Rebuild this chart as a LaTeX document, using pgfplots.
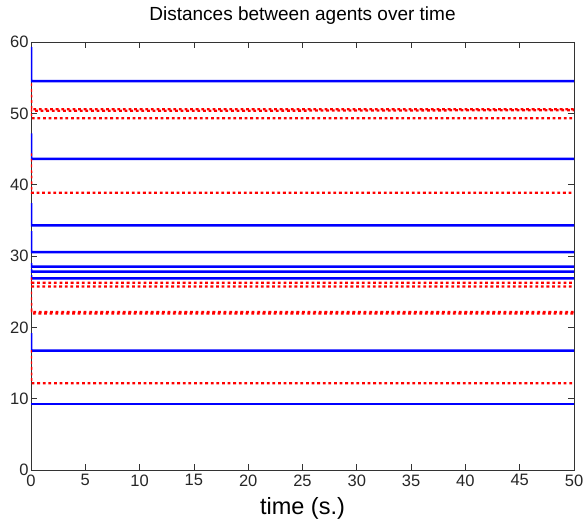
\documentclass[border=0pt]{standalone}
\usepackage{pgfplots}
\pgfplotsset{compat=1.18}
\usepackage{fontspec}
\setmainfont{Liberation Sans}
\begin{document}
\begin{tikzpicture}
\begin{axis}[
  scale only axis, width=543pt, height=428pt,
  xmin=0, xmax=50, ymin=0, ymax=60,
  xtick={0,5,...,50}, ytick={0,10,...,60},
  tick align=inside, major tick length=6pt,
  xtick pos=both, ytick pos=both,
  tick style={black!80, line width=0.8pt},
  axis line style={black!80, line width=0.8pt},
  /pgf/number format/assume math mode=true,
  tick label style={font=\fontsize{16.5}{17}\selectfont, text=black!85},
  xticklabel style={yshift=-1pt},
  yticklabel style={xshift=1pt},
  title={Distances between agents over time},
  title style={font=\fontsize{19}{20}\selectfont, at={(0.5,1)}, anchor=base, yshift=15pt},
  xlabel={time (s.)},
  xlabel style={font=\fontsize{23.5}{24}\selectfont, at={(0.5,0)}, anchor=base, yshift=-45pt},
  blueline/.style={blue, line width=2.5pt},
  redline/.style={red, line width=2.3pt, dash pattern=on 2.8pt off 2.8pt},
]
% blue solid
\addplot[blueline] coordinates {(0,59.3) (0.02,54.5) (50,54.5)};
\addplot[blueline] coordinates {(0,47.2) (0.02,43.62) (50,43.62)};
\addplot[blueline] coordinates {(0,37.4) (0.02,34.3) (50,34.3)};
\addplot[blueline] coordinates {(0,33.5) (0.02,30.56) (50,30.56)};
\addplot[blueline] coordinates {(0,29.0) (0.02,28.5) (50,28.5)};
\addplot[blueline] coordinates {(0,28.2) (0.02,27.8) (50,27.8)};
\addplot[blueline] coordinates {(0,27.3) (0.02,26.87) (50,26.87)};
\addplot[blueline] coordinates {(0,19.2) (0.02,16.73) (50,16.73)};
\addplot[blueline] coordinates {(0,9.25) (50,9.25)};
% red dotted
\addplot[redline] coordinates {(0,54.2) (0.02,50.57) (50,50.57)};
\addplot[redline] coordinates {(0,50.6) (0.02,50.35) (14,50.35) (50,50.45)};
\addplot[redline] coordinates {(0,50.0) (0.02,49.3) (50,49.3)};
\addplot[redline] coordinates {(0,44.4) (0.02,38.87) (50,38.87)};
\addplot[redline] coordinates {(0,27.0) (0.02,26.26) (50,26.26)};
\addplot[redline] coordinates {(0,26.5) (0.02,25.72) (50,25.72)};
\addplot[redline] coordinates {(0,25.0) (0.02,22.15) (50,22.15)};
\addplot[redline] coordinates {(0,22.5) (0.02,21.95) (50,21.95)};
\addplot[redline] coordinates {(0,16.8) (0.02,12.15) (50,12.15)};
\end{axis}
\pgfresetboundingbox
\path[use as bounding box] ([shift={(-31pt,-54pt)}]current axis.south west) rectangle ([shift={(10pt,42pt)}]current axis.north east);
\end{tikzpicture}
\end{document}
